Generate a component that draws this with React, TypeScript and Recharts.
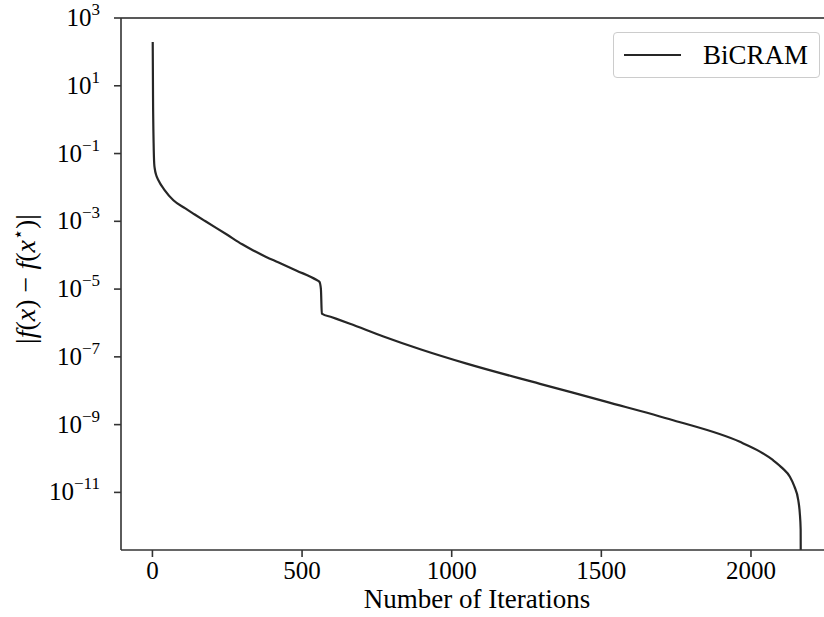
import { LineChart, Line, XAxis, YAxis, ReferenceLine } from "recharts";

const iterations = [1, 2, 4, 6, 8, 12, 20, 40, 70, 110, 140, 176, 250, 300, 337, 380, 420, 482, 549, 558, 563, 566, 600, 660, 772, 900, 1050, 1295, 1518, 1740, 1963, 2030, 2074, 2105, 2130, 2145, 2158, 2163, 2166, 2167];
const gaps = [195, 5, 0.2, 0.05, 0.035, 0.024, 0.0162, 0.0085, 0.0042, 0.0024, 0.00162, 0.00102, 4e-4, 2.1e-4, 1.38e-4, 8.9e-5, 6.2e-5, 3.5e-5, 1.85e-5, 1.65e-5, 1e-5, 1.9e-6, 1.48e-6, 9.5e-7, 4e-7, 1.62e-7, 6.3e-8, 1.6e-8, 4.7e-9, 1.35e-9, 3.1e-10, 1.6e-10, 8.9e-11, 5.2e-11, 2.9e-11, 1.5e-11, 5.9e-12, 2.5e-12, 8e-13, 1e-15];

const xTicks = [0, 500, 1000, 1500, 2000];
const yTicks = [1e3, 1e1, 1e-1, 1e-3, 1e-5, 1e-7, 1e-9, 1e-11];

const data = iterations.map((it, i) => ({ iter: it, gap: gaps[i] }));

const FONT = "'Liberation Serif', serif";
const INK = "#262626";

const LogTick = ({ x, y, payload }: any) => {
  const exp = Math.round(Math.log10(payload.value));
  const expText = exp < 0 ? `\u2212${-exp}` : `${exp}`;
  return (
    <text x={x - 12} y={y + 8} textAnchor="end" fontFamily={FONT} fontSize={25} fill="#000">
      10
      <tspan fontSize={17} dy={-11}>{expText}</tspan>
    </text>
  );
};

export default function App() {
  return (
    <div style={{ position: "absolute", left: 0, top: 0, width: 824, height: 617, background: "#fff" }}>
      <LineChart width={824} height={617} data={data} margin={{ top: 18, right: 0, left: 0, bottom: 0 }}>
        <XAxis
          dataKey="iter"
          type="number"
          domain={[-105, 2244]}
          ticks={xTicks}
          height={67}
          stroke="#333"
          strokeWidth={1.6}
          tickSize={7}
          tick={{ fill: "#000", fontSize: 25, fontFamily: FONT, dy: 2 }}
          allowDataOverflow
        />
        <YAxis
          dataKey="gap"
          scale="log"
          type="number"
          domain={[Math.pow(10, -12.7), 1e3]}
          ticks={yTicks}
          width={121}
          stroke="#333"
          strokeWidth={1.6}
          tickSize={7}
          tick={<LogTick />}
          allowDataOverflow
        />
        <ReferenceLine y={1e3} stroke="#222" strokeWidth={1.6} />
        <text x={477} y={608} textAnchor="middle" fontFamily={FONT} fontSize={27} fill="#000">
          Number of Iterations
        </text>
        <text x={35} y={279} transform="rotate(-90 35 279)" textAnchor="middle" fontFamily={FONT} fontSize={28} fill="#000">
          |<tspan fontStyle="italic">f</tspan>(<tspan fontStyle="italic">x</tspan>) − <tspan fontStyle="italic">f</tspan>(<tspan fontStyle="italic">x</tspan>
          <tspan fontSize={18} dy={-11}>⋆</tspan>
          <tspan dy={11}>)|</tspan>
        </text>
        <Line
          type="monotone"
          dataKey="gap"
          stroke={INK}
          strokeWidth={2.2}
          dot={false}
          isAnimationActive={false}
        />
      </LineChart>
      <div
        style={{
          position: "absolute",
          left: 613,
          top: 32,
          width: 207,
          height: 46,
          border: "1px solid #cccccc",
          borderRadius: 4,
          background: "#fff",
          display: "flex",
          alignItems: "center",
          boxSizing: "border-box",
        }}
      >
        <span style={{ display: "inline-block", width: 57, height: 2.5, background: INK, marginLeft: 10 }} />
        <span style={{ marginLeft: 22, fontFamily: FONT, fontSize: 27, color: "#000" }}>BiCRAM</span>
      </div>
    </div>
  );
}
